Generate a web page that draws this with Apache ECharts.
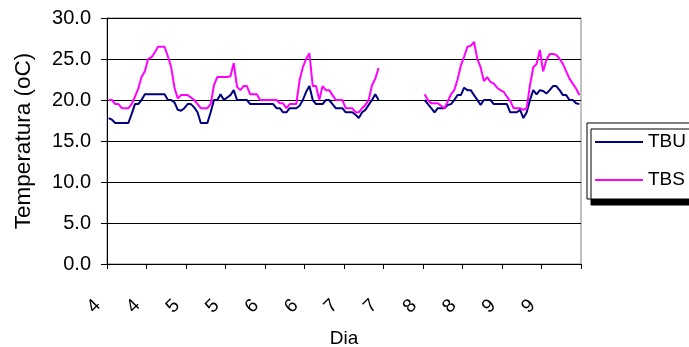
<!DOCTYPE html>
<html>
<head>
<meta charset="utf-8">
<script src="https://cdn.jsdelivr.net/npm/echarts@6/dist/echarts.min.js"></script>
<style>
html,body{margin:0;padding:0;background:#fff;}
#chart{width:689px;height:347px;}
</style>
</head>
<body>
<div id="chart"></div>
<script>
// Tick labels (one label every 12 hourly readings)
const dayLabels = ['4','4','5','5','6','6','7','7','8','8','9','9'];
const pointsPerLabel = 12;

// TBU (wet bulb) hourly readings, null = missing
const tbu = [
17.8,17.6,17.2,17.2,17.2,17.2,17.2,18.3,19.5,19.5,20.0,20.7,
20.7,20.7,20.7,20.7,20.7,20.7,20.0,20.0,19.7,18.8,18.7,19.0,
19.5,19.5,19.1,18.5,17.2,17.2,17.2,18.5,20.0,20.0,20.7,20.0,
20.3,20.6,21.2,20.0,20.0,20.0,20.0,19.5,19.5,19.5,19.5,19.5,
19.5,19.5,19.5,19.0,19.0,18.5,18.5,19.0,19.0,19.0,19.3,20.0,
21.0,21.7,20.0,19.5,19.5,19.5,20.0,20.0,19.5,19.0,19.0,19.0,
18.5,18.5,18.5,18.2,17.8,18.5,18.8,19.4,20.0,20.7,20.0,null,
null,null,null,null,null,null,null,null,null,null,null,null,
20.0,19.5,19.0,18.5,19.0,19.0,19.0,19.4,19.5,20.0,20.6,20.6,
21.5,21.2,21.2,20.6,20.0,19.4,20.0,20.0,20.0,19.5,19.5,19.5,
19.5,19.5,18.5,18.5,18.5,18.8,17.8,18.5,20.0,21.2,20.7,21.2,
21.1,20.8,21.2,21.7,21.7,21.2,20.6,20.6,20.0,20.0,19.6,19.5
];

// TBS (dry bulb) hourly readings, null = missing
const tbs = [
20.0,20.0,19.5,19.5,19.0,19.0,19.0,19.5,20.4,21.4,22.8,23.5,
25.0,25.2,25.8,26.5,26.5,26.5,25.3,24.0,21.5,20.2,20.6,20.6,
20.6,20.3,20.0,19.5,19.0,19.0,19.0,19.5,21.8,22.8,22.8,22.8,
22.8,22.9,24.5,21.6,21.2,21.7,21.7,20.7,20.7,20.7,20.0,20.0,
20.0,20.0,20.0,20.0,19.6,19.6,19.0,19.5,19.5,19.5,22.4,24.0,
25.0,25.7,21.7,21.7,20.0,21.7,21.2,21.2,20.6,20.0,20.0,20.0,
19.0,19.0,19.0,18.5,18.5,19.0,19.4,20.0,21.8,22.6,23.9,null,
null,null,null,null,null,null,null,null,null,null,null,null,
20.7,20.0,19.6,19.6,19.6,19.3,19.0,19.8,20.7,21.2,22.5,24.2,
25.3,26.5,26.6,27.1,25.0,24.0,22.3,22.8,22.2,22.0,21.5,21.2,
21.0,20.4,19.9,19.0,19.0,19.0,18.8,19.0,21.8,24.0,24.4,26.1,
23.5,24.9,25.6,25.6,25.5,25.0,24.4,23.5,22.6,22.0,21.4,20.6
];

const categories = [];
for (let i = 0; i < dayLabels.length * pointsPerLabel; i++) categories.push(i);

const FONT = 'Liberation Sans, Arial, sans-serif';
const chart = echarts.init(document.getElementById('chart'), null, {renderer: 'canvas'});
chart.setOption({
  animation: false,
  backgroundColor: '#fff',
  grid: {left: 107, right: 108, top: 18, bottom: 83, outerBoundsMode: 'none', containLabel: false, show: true, borderColor: '#808080', borderWidth: 1, backgroundColor: 'transparent'},
  legend: {
    orient: 'vertical',
    left: 587, top: 123,
    padding: [9, 30, 9, 8],
    itemGap: 18,
    icon: 'rect',
    itemWidth: 48, itemHeight: 2,
    backgroundColor: '#fff',
    borderColor: '#000', borderWidth: 1,
    shadowColor: '#000', shadowBlur: 0, shadowOffsetX: 4, shadowOffsetY: 6,
    textStyle: {fontFamily: FONT, fontSize: 19, color: '#000', lineHeight: 20},
    data: ['TBU', 'TBS']
  },
  xAxis: {
    type: 'category',
    data: categories,
    boundaryGap: true,
    name: 'Dia',
    nameLocation: 'middle',
    nameGap: 65,
    nameMoveOverlap: false,
    nameTextStyle: {fontFamily: FONT, fontSize: 19, color: '#000'},
    axisLine: {lineStyle: {color: '#000', width: 1}},
    axisTick: {show: true, interval: pointsPerLabel - 1, length: 5, lineStyle: {color: '#000'}},
    axisLabel: {
      interval: pointsPerLabel - 1,
      rotate: 45,
      margin: 41,
      align: 'right',
      verticalAlign: 'bottom',
      padding: [0, 6, 0, 0],
      fontFamily: FONT, fontSize: 19, color: '#000',
      formatter: function (v, idx) { return dayLabels[Math.floor(idx / pointsPerLabel)]; }
    },
    splitLine: {show: false}
  },
  yAxis: {
    type: 'value',
    min: 0, max: 30, interval: 5,
    name: 'Temperatura (oC)',
    nameLocation: 'middle',
    nameGap: 72,
    nameRotate: 90,
    nameMoveOverlap: false,
    nameTextStyle: {fontFamily: FONT, fontSize: 22.5, color: '#000'},
    axisLine: {show: true, lineStyle: {color: '#000', width: 1}},
    axisTick: {show: true, length: 6, lineStyle: {color: '#000'}},
    axisLabel: {margin: 16, fontFamily: FONT, fontSize: 20, color: '#000', formatter: function (v) { return v.toFixed(1); }},
    splitLine: {show: true, lineStyle: {color: '#000', width: 1}}
  },
  series: [
    {name: 'TBU', type: 'line', data: tbu, symbol: 'none', connectNulls: false, lineStyle: {color: '#000080', width: 2}, itemStyle: {color: '#000080'}},
    {name: 'TBS', type: 'line', data: tbs, symbol: 'none', connectNulls: false, lineStyle: {color: '#FF00FF', width: 2}, itemStyle: {color: '#FF00FF'}}
  ]
});
</script>
</body>
</html>
